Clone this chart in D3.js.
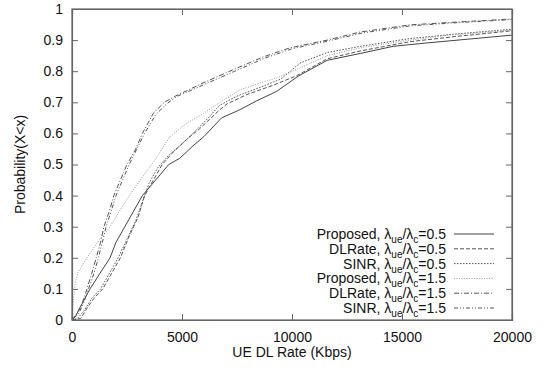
<!DOCTYPE html>
<html><head><meta charset="utf-8">
<script src="https://cdn.jsdelivr.net/npm/d3@7"></script>
<style>
body{margin:0;background:#fff;}
text{font-family:"Liberation Sans",Arial,sans-serif;}
</style></head>
<body><svg id="c" width="544" height="370"></svg>
<script>
const xTicks=[0,5000,10000,15000,20000];
const yTicks=[0,0.1,0.2,0.3,0.4,0.5,0.6,0.7,0.8,0.9,1];
const seriesNames=["Proposed","DLRate","SINR","Proposed","DLRate","SINR"];
const seriesRatios=["0.5","0.5","0.5","1.5","1.5","1.5"];
const prop05=[[0,0],[150,0.01],[360,0.04],[820,0.1],[1270,0.15],[1730,0.2],[2000,0.25],[2400,0.3],[2800,0.35],[3200,0.4],[3800,0.45],[4400,0.5],[4900,0.52],[5500,0.56],[6000,0.59],[6800,0.65],[7600,0.675],[8400,0.705],[9300,0.735],[10300,0.785],[11600,0.835],[13100,0.857],[14600,0.88],[16000,0.89],[18000,0.903],[20000,0.916]];
const dl05=[[0,0],[400,0.005],[700,0.04],[1000,0.07],[1400,0.1],[1800,0.15],[2200,0.2],[2600,0.27],[3000,0.33],[3300,0.4],[3700,0.45],[4100,0.5],[4600,0.54],[5200,0.58],[5800,0.615],[6700,0.675],[7050,0.695],[7950,0.725],[9150,0.755],[10200,0.785],[11600,0.84],[13100,0.865],[15360,0.895],[17500,0.912],[20000,0.93]];
const sinr05=[[0,0],[250,0.005],[550,0.03],[900,0.07],[1300,0.1],[1700,0.15],[2100,0.2],[2500,0.26],[2900,0.32],[3200,0.38],[3500,0.44],[3900,0.49],[4400,0.53],[4900,0.56],[5500,0.6],[6200,0.65],[6700,0.69],[7500,0.72],[8550,0.748],[9500,0.775],[10360,0.826],[11600,0.86],[13100,0.88],[15360,0.905],[17500,0.92],[20000,0.935]];
const prop15=[[0,0],[50,0.05],[150,0.12],[250,0.15],[670,0.2],[1270,0.26],[1730,0.3],[2200,0.355],[2800,0.42],[3400,0.48],[3770,0.514],[4450,0.589],[5200,0.632],[5970,0.664],[6880,0.707],[7640,0.74],[8550,0.762],[9450,0.782],[10360,0.81],[11600,0.85],[13100,0.875],[15360,0.9],[17000,0.915],[20000,0.932]];
const dl15=[[0,0],[200,0.02],[400,0.04],[680,0.1],[900,0.15],[1100,0.2],[1300,0.25],[1450,0.3],[1700,0.35],[1900,0.4],[2200,0.45],[2500,0.5],[2900,0.55],[3200,0.6],[3700,0.665],[4200,0.7],[4700,0.72],[5300,0.74],[5950,0.762],[7300,0.804],[8700,0.846],[9900,0.875],[11600,0.9],[13100,0.926],[15360,0.949],[17500,0.958],[20000,0.968]];
const sinr15=[[0,0],[300,0.02],[500,0.05],[750,0.1],[1000,0.15],[1200,0.2],[1380,0.25],[1550,0.3],[1780,0.35],[2000,0.4],[2300,0.45],[2600,0.5],[2950,0.55],[3300,0.6],[3800,0.66],[4300,0.695],[4800,0.72],[5400,0.738],[6100,0.76],[7400,0.8],[8800,0.843],[10000,0.872],[11700,0.898],[13200,0.923],[15400,0.946],[17500,0.956],[20000,0.966]];
const seriesData=[prop05,dl05,sinr05,prop15,dl15,sinr15];

const styles=[
 {c:"#444",d:null},
 {c:"#555",d:"4,2"},
 {c:"#555",d:"1.5,1.5"},
 {c:"#999",d:"1,1.5"},
 {c:"#555",d:"5,2,1,2"},
 {c:"#555",d:"4,2,1,2,1,2"}
];
const svg=d3.select("#c");
const L=72,R=512,T=9,B=320;
const x=d3.scaleLinear().domain([0,20000]).range([L,R]);
const y=d3.scaleLinear().domain([0,1]).range([B,T]);
const bc="#666";

const line=d3.line().x(d=>x(d[0])).y(d=>y(d[1]));
seriesData.forEach((s,i)=>{
  svg.append("path").attr("d",line(s)).attr("fill","none")
   .attr("stroke",styles[i].c).attr("stroke-width",1)
   .attr("stroke-dasharray",styles[i].d);
});

// axes
const fmt=d=>String(d);
const gx=svg.append("g").attr("transform",`translate(0,${B})`)
  .call(d3.axisBottom(x).tickValues(xTicks).tickSize(-6).tickPadding(12).tickFormat(fmt));
const gxt=svg.append("g").attr("transform",`translate(0,${T})`)
  .call(d3.axisTop(x).tickValues(xTicks).tickSize(-6).tickFormat(""));
const gy=svg.append("g").attr("transform",`translate(${L},0)`)
  .call(d3.axisLeft(y).tickValues(yTicks).tickSize(-6).tickPadding(9).tickFormat(fmt));
const gyr=svg.append("g").attr("transform",`translate(${R},0)`)
  .call(d3.axisRight(y).tickValues(yTicks).tickSize(-6).tickFormat(""));
[gx,gxt,gy,gyr].forEach(g=>{
  g.selectAll("path").attr("stroke",bc).attr("stroke-width",1.2);
  g.selectAll("line").attr("stroke",bc);
  g.selectAll("text").attr("fill","#111").style("font-size","14px").style("font-family","Liberation Sans, Arial, sans-serif");
});
svg.append("rect").attr("x",L).attr("y",T).attr("width",R-L).attr("height",B-T)
  .attr("fill","none").attr("stroke",bc).attr("stroke-width",1.2);

svg.append("text").attr("x",(L+R)/2).attr("y",357).attr("text-anchor","middle")
  .style("font-size","14px").attr("fill","#111").text("UE DL Rate (Kbps)");
svg.append("text").attr("transform",`translate(25,${(T+B)/2}) rotate(-90)`).attr("text-anchor","middle")
  .style("font-size","14px").attr("fill","#111").text("Probability(X<x)");

// legend
const ly0=234, lstep=14.8;
seriesNames.forEach((n,i)=>{
  const yy=ly0+i*lstep;
  const t=svg.append("text").attr("x",446).attr("y",yy+5).attr("text-anchor","end")
    .style("font-size","14px").attr("fill","#111");
  t.append("tspan").text(n+", \u03bb");
  t.append("tspan").attr("dy",4).style("font-size","10px").text("ue");
  t.append("tspan").attr("dy",-4).text("/\u03bb");
  t.append("tspan").attr("dy",4).style("font-size","10px").text("c");
  t.append("tspan").attr("dy",-4).text("="+seriesRatios[i]);
  svg.append("line").attr("x1",454).attr("x2",494).attr("y1",yy).attr("y2",yy)
    .attr("stroke",styles[i].c).attr("stroke-width",1).attr("stroke-dasharray",styles[i].d);
});
</script></body></html>
